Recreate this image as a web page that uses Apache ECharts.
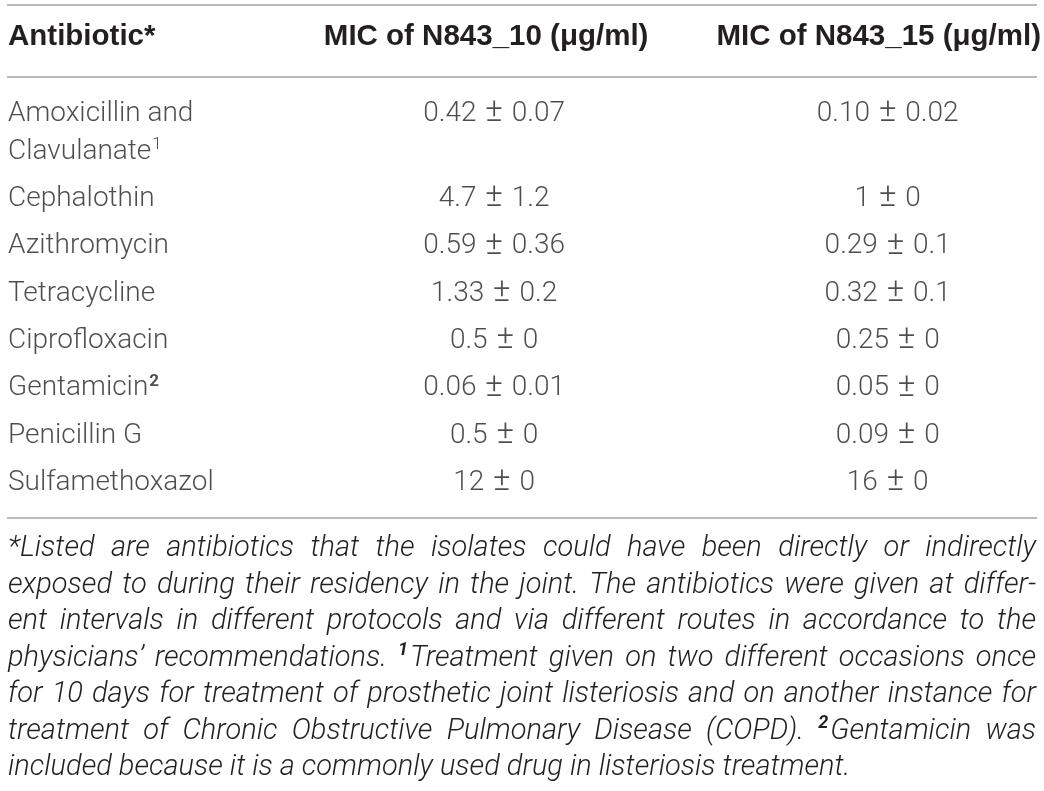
<!DOCTYPE html>
<html>
<head>
    <meta charset="UTF-8">
    <title>MIC table</title>
    <style>
        body,
        html {
            width: 100%;
            height: 100%;
            margin: 0;
            padding: 0;
            background: #fff;
        }
        #myChart {
            width: 1044px;
            height: 791px;
        }
    </style>
    <script src="https://cdn.jsdelivr.net/npm/echarts@6/dist/echarts.min.js"></script>
</head>
<body>
    <div id="myChart"></div>
    <script>

        // 表头
        let columns = ['Antibiotic*', 'MIC of N843_10 (μg/ml)', 'MIC of N843_15 (μg/ml)'];

        // 行：抗生素名称 + 脚注标记
        let antibiotics = ['Amoxicillin and\nClavulanate', 'Cephalothin', 'Azithromycin', 'Tetracycline',
            'Ciprofloxacin', 'Gentamicin', 'Penicillin G', 'Sulfamethoxazol'];
        let footMarks = ['1', '', '', '', '', '2', '', ''];
        let footMarkBold = [false, false, false, false, false, true, false, false];

        // MIC 数值 (mean ± sd)
        let mic10Mean = ['0.42', '4.7', '0.59', '1.33', '0.5', '0.06', '0.5', '12'];
        let mic10Sd = ['0.07', '1.2', '0.36', '0.2', '0', '0.01', '0', '0'];
        let mic15Mean = ['0.10', '1', '0.29', '0.32', '0.25', '0.05', '0.09', '16'];
        let mic15Sd = ['0.02', '0', '0.1', '0.1', '0', '0', '0', '0'];

        // 表注（^n 表示上标）
        let notes = [
            '*Listed are antibiotics that the isolates could have been directly or indirectly',
            'exposed to during their residency in the joint. The antibiotics were given at differ-',
            'ent intervals in different protocols and via different routes in accordance to the',
            'physicians\u2019 recommendations. ^1Treatment given on two different occasions once',
            'for 10 days for treatment of prosthetic joint listeriosis and on another instance for',
            'treatment of Chronic Obstructive Pulmonary Disease (COPD). ^2Gentamicin was',
            'included because it is a commonly used drug in listeriosis treatment.'
        ];

        let textColor = '#231f20';
        let ruleColor = '#a3a3a3';
        let bodyFont = 'Roboto';
        let bodySize = 28;

        function micText(mean, sd) {
            return '{n|' + mean + ' }{pm|\u00b1}{n| ' + sd + '}';
        }

        // 单元格数据
        let cells = [];
        antibiotics.forEach((name, i) => {
            let mark = footMarks[i] ? '{' + (footMarkBold[i] ? 'supb' : 'sup') + '|' + footMarks[i] + '}' : '';
            let lines = name.split('\n');
            let txt = lines.map((l, k) => '{n|' + l + '}' + (k === lines.length - 1 ? mark : '')).join('\n');
            let dy = lines.length > 1 ? -19 : 0;
            let vy = lines.length > 1 ? -38 : 0;
            cells.push({ value: [0, i], text: txt, label: { align: 'left', offset: [-101.5, dy] } });
            cells.push({ value: [1, i], text: micText(mic10Mean[i], mic10Sd[i]), label: { offset: [1, vy] } });
            cells.push({ value: [2, i], text: micText(mic15Mean[i], mic15Sd[i]), label: { offset: [11, vy] } });
        });

        // 表注两端对齐
        let canvas = document.createElement('canvas');
        let ctx = canvas.getContext('2d');
        function textWidth(str, font) {
            ctx.font = font;
            return ctx.measureText(str).width;
        }
        let noteFont = 'italic 300 29px Roboto';
        let supFont = 'italic bold 18px Roboto';
        let noteLeft = 8, noteRight = 1036, noteTop = 549, noteLine = 36.5;
        let graphics = [];
        notes.forEach((line, li) => {
            let words = line.split(' ').map(w => {
                let m = w.match(/^\^(\d)(.*)$/);
                return m ? { sup: m[1], text: m[2] } : { sup: '', text: w };
            });
            words.forEach(w => {
                w.sw = w.sup ? textWidth(w.sup, supFont) + 2 : 0;
                w.w = w.sw + textWidth(w.text, noteFont);
            });
            let total = words.reduce((s, w) => s + w.w, 0);
            let last = li === notes.length - 1;
            let gap = last ? textWidth(' ', noteFont) : (noteRight - noteLeft - total) / (words.length - 1);
            let x = noteLeft;
            let y = noteTop + li * noteLine;
            words.forEach(w => {
                if (w.sup) {
                    graphics.push({ type: 'text', x: x, y: y - 8, style: { text: w.sup, font: supFont, fill: textColor, verticalAlign: 'middle' } });
                }
                graphics.push({ type: 'text', x: x + w.sw, y: y, style: { text: w.text, font: noteFont, fill: textColor, verticalAlign: 'middle' } });
                x += w.w + gap;
            });
        });

        // 横线
        [5, 77, 518].forEach(y => {
            graphics.push({ type: 'line', shape: { x1: 7, y1: y, x2: 1037, y2: y }, style: { stroke: ruleColor, lineWidth: 1.6 } });
        });

        // 初始化
        let myEcharts = echarts.init(document.querySelector('#myChart'));

        let headStyle = { fontFamily: 'Liberation Sans', fontWeight: 'bold', fontSize: 29.5, lineHeight: 30, color: textColor };

        let option = {
            animation: false,
            backgroundColor: '#fff',
            grid: { left: 109.5, right: 150.5, top: 128, bottom: 284.3 },
            xAxis: {
                type: 'category',
                position: 'top',
                boundaryGap: false,
                data: columns,
                axisLine: { show: false },
                axisTick: { show: false },
                splitLine: { show: false },
                axisLabel: {
                    interval: 0,
                    margin: 76,
                    formatter: (v, idx) => '{h' + idx + '|' + v + '}',
                    rich: {
                        h0: Object.assign({ width: 203, align: 'left' }, headStyle),
                        h1: Object.assign({ padding: [0, 14, 0, 0] }, headStyle),
                        h2: Object.assign({ padding: [0, 0, 0, 4] }, headStyle)
                    }
                }
            },
            yAxis: {
                type: 'category',
                inverse: true,
                data: antibiotics,
                show: false
            },
            series: [{
                type: 'scatter',
                symbolSize: 1,
                itemStyle: { color: 'rgba(0,0,0,0)' },
                data: cells,
                label: {
                    show: true,
                    position: 'inside',
                    align: 'center',
                    verticalAlign: 'middle',
                    formatter: p => p.data.text,
                    rich: {
                        n: { fontFamily: bodyFont, fontWeight: 300, fontSize: bodySize, lineHeight: 38, color: textColor },
                        pm: { fontFamily: bodyFont, fontWeight: 300, fontSize: 33, lineHeight: 38, padding: [0, 2, 2, 2], color: textColor },
                        sup: { fontFamily: bodyFont, fontWeight: 300, fontSize: 17, lineHeight: 38, padding: [0, 0, 14, 1], color: textColor },
                        supb: { fontFamily: bodyFont, fontWeight: 'bold', fontSize: 17, lineHeight: 38, padding: [0, 0, 14, 1], color: textColor }
                    }
                },
                emphasis: { disabled: true },
                silent: true
            }],
            graphic: graphics
        };
        myEcharts.setOption(option, true);

        window.addEventListener("resize", () => {
            myEcharts.resize();
        });

    </script>
</body>
</html>
